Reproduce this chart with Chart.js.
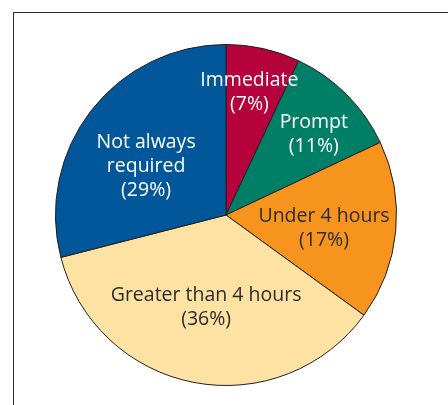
<!DOCTYPE html>
<html>
<head>
<meta charset="utf-8">
<script src="https://cdn.jsdelivr.net/npm/chart.js@4.4.1/dist/chart.umd.min.js"></script>
<style>
  html, body { margin: 0; padding: 0; background: #fff; }
  body { width: 448px; height: 405px; position: relative; overflow: hidden; }
  .frame { position: absolute; left: 13px; top: 12px; width: 520px; height: 520px; border: 1px solid #2e2e2e; }
  #pie { position: absolute; left: 0; top: 0; }
</style>
</head>
<body>
<div class="frame"></div>
<canvas id="pie" width="448" height="405"></canvas>
<script>
  const categories = ['Immediate', 'Prompt', 'Under 4 hours', 'Greater than 4 hours', 'Not always required'];
  const shares = [7, 11, 17, 36, 29];
  const labelLines = [['Immediate'], ['Prompt'], ['Under 4 hours'], ['Greater than 4 hours'], ['Not always', 'required']];
  const sliceColors = ['#b5023c', '#007f66', '#f7941e', '#fee2a3', '#02579a'];
  const textColors = ['#ffffff', '#ffffff', '#2b2b2b', '#2b2b2b', '#ffffff'];

  // where each label sits: fraction along the slice, fraction of the radius
  const placement = [
    { t: 0.43, r: 0.73 },
    { t: 0.56, r: 0.70 },
    { t: 0.535, r: 0.58 },
    { t: 0.51, r: 0.557 },
    { t: 0.44, r: 0.55 }
  ];

  const sliceLabels = {
    id: 'sliceLabels',
    afterDatasetsDraw(chart) {
      const ctx = chart.ctx;
      const arcs = chart.getDatasetMeta(0).data;
      ctx.save();
      ctx.font = '19.5px "Open Sans", "Noto Sans", sans-serif';
      ctx.textAlign = 'center';
      ctx.textBaseline = 'middle';
      const lineH = 24;
      arcs.forEach((arc, i) => {
        const { x, y, startAngle, endAngle, outerRadius } = arc.getProps(['x', 'y', 'startAngle', 'endAngle', 'outerRadius'], true);
        const p = placement[i];
        const a = startAngle + (endAngle - startAngle) * p.t;
        const cx = x + Math.cos(a) * outerRadius * p.r;
        const cy = y + Math.sin(a) * outerRadius * p.r;
        const lines = labelLines[i].concat(['(' + shares[i] + '%)']);
        ctx.fillStyle = textColors[i];
        lines.forEach((ln, k) => {
          ctx.fillText(ln, cx, cy + (k - (lines.length - 1) / 2) * lineH);
        });
      });
      ctx.restore();
    }
  };

  new Chart(document.getElementById('pie'), {
    type: 'pie',
    data: {
      labels: categories,
      datasets: [{
        data: shares,
        backgroundColor: sliceColors,
        borderColor: '#231f20',
        borderWidth: 1
      }]
    },
    options: {
      responsive: false,
      animation: false,
      events: [],
      layout: { padding: { left: 55, right: 51, top: 44, bottom: 19 } },
      plugins: { legend: { display: false }, tooltip: { enabled: false } }
    },
    plugins: [sliceLabels]
  });
</script>
</body>
</html>
